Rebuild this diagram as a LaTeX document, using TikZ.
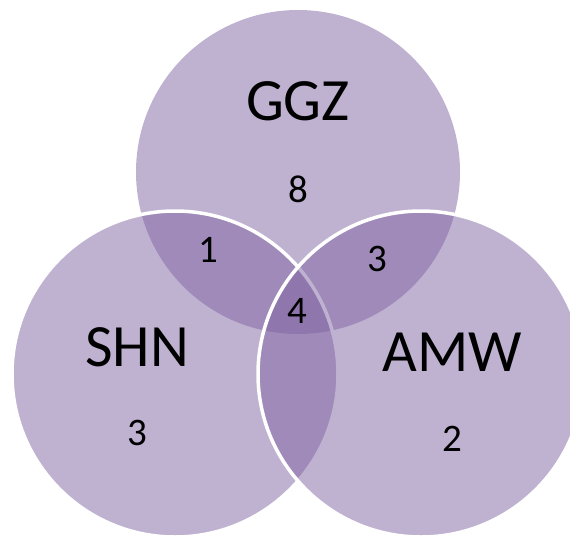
\documentclass[tikz,border=0pt]{standalone}
\usepackage{fontspec}
\setmainfont{Carlito}
\begin{document}
\begin{tikzpicture}[x=1pt,y=-1pt]
\definecolor{vfill}{HTML}{8064A2}
\tikzset{
  circ/.style={fill=vfill, fill opacity=0.5},
  ring/.style={draw=white, draw opacity=1, line width=3.5pt},
  lab/.style={font=\fontsize{60}{72}\selectfont, text=black, inner sep=0pt},
  num/.style={font=\fontsize{39}{47}\selectfont, text=black, inner sep=0pt}
}
\useasboundingbox (0,0) rectangle (570,536);
\clip (0,0) rectangle (570,536);
\path[circ] (298,172) circle (162);
\path[circ, ring] (175,374) circle (163);
\path[circ, ring] (421,374) circle (163);
\node[lab] (ggz) at (298,101) {GGZ};
\node[lab] (shn) at (137,347) {SHN};
\node[lab] (amw) at (452,352) {AMW};
\node[num] (n8) at (298,189) {8};
\node[num] (n1) at (208,250) {1};
\node[num] (n3a) at (377,259) {3};
\node[num] (n4) at (297,311) {4};
\node[num] (n3b) at (137,433) {3};
\node[num] (n2) at (452,439) {2};
\end{tikzpicture}
\end{document}
